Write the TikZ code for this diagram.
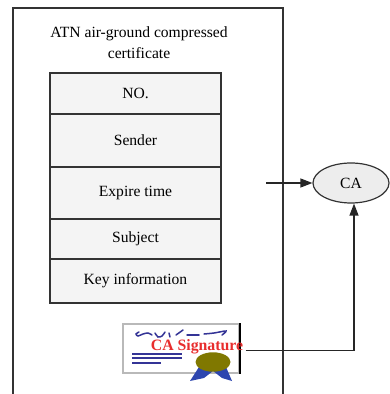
\documentclass[tikz,border=0pt]{standalone}
\usepackage{fontspec}
\setmainfont{Liberation Serif}
\usetikzlibrary{positioning,shapes.geometric,arrows.meta}
\definecolor{rowgray}{RGB}{244,244,244}
\definecolor{sealolive}{RGB}{128,120,0}
\definecolor{inkblue}{RGB}{52,52,150}
\definecolor{ribbonblue}{RGB}{45,70,175}
\definecolor{sigred}{RGB}{232,45,45}

\begin{document}
\begin{tikzpicture}[x=0.5pt, y=-0.5pt,
            field/.style={draw=black!80, fill=rowgray, line width=0.6pt, minimum width=85.5pt, inner sep=0pt, outer sep=0pt, font=\fontsize{7.8}{10.5}\selectfont},
            arrow/.style={-{Triangle[length=6pt,width=4.5pt]}, line width=0.6pt, black!85},
            scribble/.style={inkblue, line width=0.75pt, line cap=round}
        ]
            \useasboundingbox (0,0) rectangle (389,394);

            % certificate frame, open at the bottom
            \draw [black!80, line width=0.6pt] (13,394) |- (283,8) -- (283,394);
            \node (title) [font=\fontsize{7.8}{10.5}\selectfont, align=center] at (139,43) {ATN air-ground compressed\\certificate};

            % fields of the certificate
            \node (no) [field, minimum height=20.5pt, anchor=north west] at (50,73) {NO.};
            \node (sender) [field, minimum height=26.5pt, below=0pt of no] {Sender};
            \node (expire) [field, minimum height=26pt, below=0pt of sender] {Expire time};
            \node (subject) [field, minimum height=20pt, below=0pt of expire] {Subject};
            \node (key) [field, minimum height=22pt, below=0pt of subject] {Key information};

            % signature icon
            \draw [gray!55, fill=white, line width=1pt] (123,324) rectangle (239,373);
            \draw [black, line width=1.3pt] (240,323) -- (240,374);
            \draw [scribble] plot [smooth] coordinates {(139,332) (136,334) (138,336) (143,334) (148,333) (152,335)};
            \draw [scribble] plot [smooth] coordinates {(155,333) (158,337) (162,336) (165,332)};
            \draw [scribble] (169,333) -- (170,337);
            \draw [scribble] (176,335) -- (183,330);
            \draw [scribble] (187,335) -- (199,335);
            \draw [scribble] plot [smooth] coordinates {(204,334) (214,333) (226,331) (222,335)};
            \draw [inkblue, line width=1.1pt] (132,354) -- (182,354) (132,358) -- (182,358) (132,363) -- (161,363);
            \fill [ribbonblue] (199,367) -- (190,381) -- (204,378) -- (213,371) -- (222,378) -- (232,381) -- (226,367) -- cycle;
            \fill [sealolive] (213,362) ellipse [x radius=8.75pt, y radius=4.85pt];
            \node (sig) [font=\fontsize{7.9}{9}\bfseries\selectfont, text=sigred, inner sep=1pt] at (197,347) {CA Signature};

            \node (ca) [ellipse, draw=black!80, fill=black!7, line width=0.6pt, minimum width=38pt, minimum height=20pt, inner sep=0pt, font=\fontsize{7.8}{10.5}\selectfont] at (351,183) {CA};
            \coordinate (fromcert) at (266,183);

            \draw [arrow] (fromcert) -- (ca);
            \draw [arrow] (sig.base east) -| ([xshift=1.5pt]ca.south);
        \end{tikzpicture}
\end{document}
